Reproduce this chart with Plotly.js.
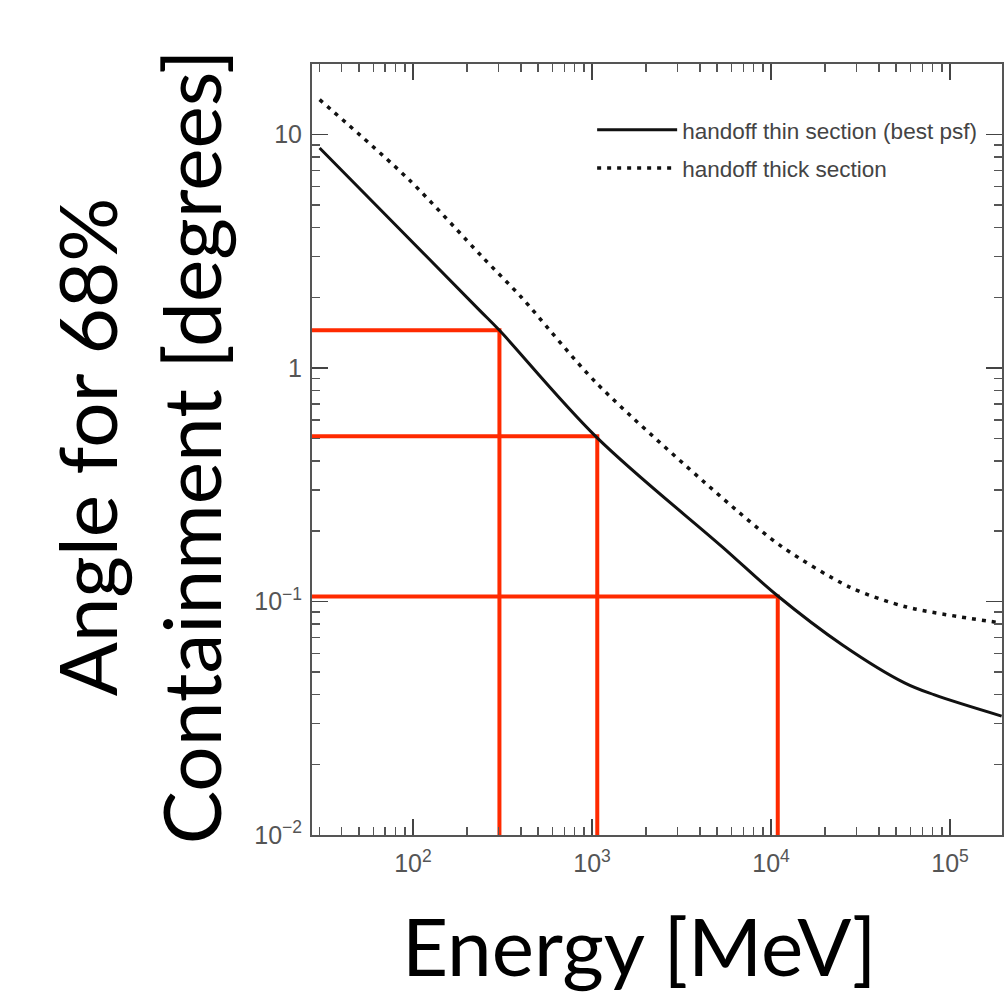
<!DOCTYPE html>
<html>
<head>
<meta charset="utf-8">
<script src="https://cdn.plot.ly/plotly-3.0.1.min.js"></script>
<style>
  html, body { margin: 0; padding: 0; background: #ffffff; }
  #chart { width: 1005px; height: 997px; }
</style>
</head>
<body>
<div id="chart"></div>
<script>
// Energy in MeV, angle in degrees (68% containment)
const thinEnergy = [30.1, 84.1, 235, 304, 1059, 5357, 10740, 25060, 55660, 81870, 194100];
const thinAngle  = [8.75, 3.94, 1.77, 1.45, 0.506, 0.171, 0.1066, 0.0651, 0.0448, 0.0398, 0.0323];

const thickEnergy = [30.1, 95.5, 244, 403, 1059, 6412, 11590, 27480, 57150, 194100];
const thickAngle  = [14.1, 6.38, 2.99, 2.01, 0.862, 0.246, 0.171, 0.1153, 0.0947, 0.0809];

// highlighted reference points (red guide lines)
const markEnergy = [304, 1070, 10900];
const markAngle  = [1.45, 0.51, 0.105];

const seriesNames = ["handoff thin section (best psf)", "handoff thick section"];

const xRangeLog = [1.436, 5.29];
const yRangeLog = [-2, 1.302];
const xMin = Math.pow(10, xRangeLog[0]);
const yMin = Math.pow(10, yRangeLog[0]);

const traces = [];

markEnergy.forEach((e, i) => {
  traces.push({
    x: [xMin, e, e],
    y: [markAngle[i], markAngle[i], yMin],
    mode: "lines",
    line: { color: "#ff2a00", width: 4 },
    showlegend: false,
    hoverinfo: "skip"
  });
});

traces.push({
  x: thinEnergy, y: thinAngle, name: seriesNames[0],
  mode: "lines", line: { color: "#111111", width: 3, shape: "spline", smoothing: 1 },
  legendgroup: "a"
});
traces.push({
  x: thickEnergy, y: thickAngle, name: seriesNames[1],
  mode: "lines", line: { color: "#111111", width: 3.5, dash: "4px,6px", shape: "spline", smoothing: 0.8 },
  legendgroup: "b"
});

const axisCommon = {
  type: "log",
  dtick: 1,
  exponentformat: "power",
  showgrid: false,
  zeroline: false,
  showline: true,
  linecolor: "#555555",
  linewidth: 2,
  mirror: "allticks",
  ticks: "inside",
  ticklen: 16,
  tickwidth: 1.5,
  tickcolor: "#444444",
  minor: { ticks: "inside", ticklen: 8, tickwidth: 1.5, tickcolor: "#555555", dtick: "D1", showgrid: false },
  tickfont: { family: "Liberation Sans, Arial, sans-serif", size: 20, color: "#555555" }
};

const layout = {
  width: 1005,
  height: 997,
  margin: { l: 312, r: 3, t: 64, b: 162 },
  paper_bgcolor: "#ffffff",
  plot_bgcolor: "#ffffff",
  showlegend: true,
  legend: {
    x: 0.406, y: 0.942, xanchor: "left", yanchor: "top",
    bgcolor: "rgba(0,0,0,0)",
    itemwidth: 80,
    tracegroupgap: 6,
    traceorder: "grouped",
    font: { family: "Liberation Sans, Arial, sans-serif", size: 22.5, color: "#444444" }
  },
  xaxis: Object.assign({}, axisCommon, { range: xRangeLog, ticklabelstandoff: 6 }),
  yaxis: Object.assign({}, axisCommon, { range: yRangeLog, ticklabelstandoff: 4 }),
  annotations: [
    {
      text: "Energy [MeV]",
      xref: "paper", yref: "paper",
      x: 0.474, y: -0.078, xanchor: "center", yanchor: "top",
      showarrow: false,
      font: { family: "Lato, sans-serif", size: 80, color: "#000000" }
    },
    {
      text: "Angle for 68%<br>Containment [degrees]",
      xref: "paper", yref: "paper",
      x: -0.252, y: 0.503, xanchor: "center", yanchor: "middle",
      textangle: -90,
      showarrow: false,
      font: { family: "Lato, sans-serif", size: 80, color: "#000000" }
    }
  ]
};

Plotly.newPlot("chart", traces, layout, { displayModeBar: false, staticPlot: true });
</script>
</body>
</html>
